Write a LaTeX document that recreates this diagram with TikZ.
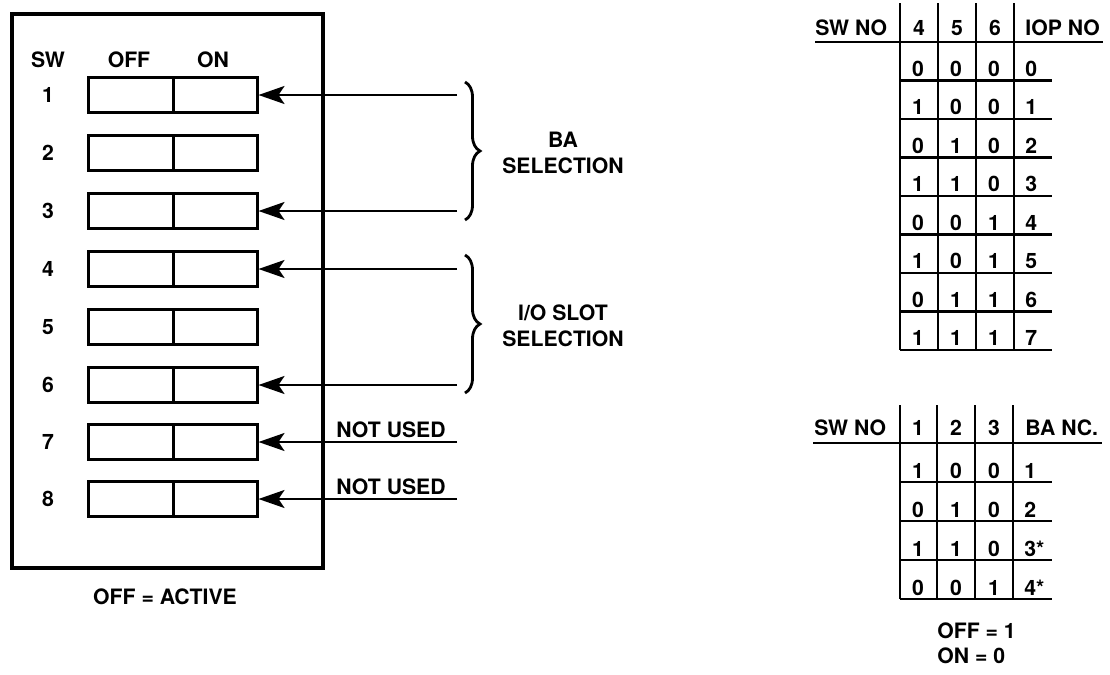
\documentclass[tikz,border=0pt]{standalone}
\usepackage{fontspec}
\setmainfont{TeX Gyre Heros}
\usepackage{tikz}
\usetikzlibrary{arrows.meta,decorations.pathreplacing}

\tikzset{
  lbl/.style={font=\fontsize{10.6}{12}\selectfont\bfseries, inner sep=0pt,
    text height=7.6pt, text depth=0pt},
  half/.style={draw, line width=1.5pt, minimum height=17.5pt, inner sep=0pt},
  feed/.style={line width=1.2pt, -{Stealth[length=13pt,width=9pt,inset=3pt]}},
  grp/.style={line width=1.4pt, decorate, decoration={brace, amplitude=7.5pt}},
  rule/.style={line width=1.2pt},
}

\begin{document}
\begin{tikzpicture}[x=0.5pt,y=-0.5pt]
      \useasboundingbox (0,0) rectangle (1110,675);

      % Switch housing
      \draw[line width=2pt] (12,14) rectangle (323,568);

      % Column heads
      \node[lbl] (hsw) at (48,60) {SW};
      \node[lbl] (hoff) at (129,60) {OFF};
      \node[lbl] (hon) at (213,60) {ON};

      % Switches
      \foreach \i/\y in {1/95,2/153,3/211,4/269,5/327,6/385,7/442,8/499}{
        \node[lbl] (n\i) at (48,\y) {\i};
        \node[half, minimum width=42.5pt] (off\i) at (130.5,\y) {};
        \node[half, minimum width=42pt] (on\i) at (215,\y) {};
      }

      % Feed lines
      \foreach \i/\y in {1/95,3/211,4/269,6/385,7/442,8/499}{
        \coordinate (f\i) at (457,\y);
        \draw[feed] (f\i) -- (on\i.east);
      }

      % Braces
      \draw[grp] (465,82) -- (465,220);
      \draw[grp] (465,255) -- (465,393);

      % Labels
      \node[lbl] (ba) at (563,140) {BA};
      \node[lbl] (bas) at (563,166) {SELECTION};
      \node[lbl] (io) at (563,313) {I/O SLOT};
      \node[lbl] (ios) at (563,339) {SELECTION};
      \node[lbl] (nu7) at (391,430) {NOT USED};
      \node[lbl] (nu8) at (391,487) {NOT USED};
      \node[lbl] (act) at (165,597) {OFF = ACTIVE};

      % IOP table
      \foreach \x in {900,938,976,1014} \draw[rule] (\x,3) -- (\x,350);
      \draw[rule] (815,42) -- (1103,42);
      \foreach \k in {1,...,8} \draw[rule] (900,{42+38.5*\k}) -- (1052,{42+38.5*\k});
      \node[lbl,anchor=west] (iopsw) at (815,28) {SW NO};
      \node[lbl] (iop4) at (919,28) {4};
      \node[lbl] (iop5) at (957,28) {5};
      \node[lbl] (iop6) at (995,28) {6};
      \node[lbl,anchor=west] (iopno) at (1025,28) {IOP NO};
      \foreach \a/\b/\c/\d [count=\k] in {0/0/0/0,1/0/0/1,0/1/0/2,1/1/0/3,
          0/0/1/4,1/0/1/5,0/1/1/6,1/1/1/7}{
        \node[lbl] (iopa\k) at (918,{30+38.5*\k}) {\a};
        \node[lbl] (iopb\k) at (956,{30+38.5*\k}) {\b};
        \node[lbl] (iopc\k) at (994,{30+38.5*\k}) {\c};
        \node[lbl,anchor=west] (iopd\k) at (1025,{30+38.5*\k}) {\d};
      }

      % BA table
      \foreach \x in {900,937,975,1013} \draw[rule] (\x,405) -- (\x,599);
      \draw[rule] (813,443) -- (1102,443);
      \foreach \k in {1,...,4} \draw[rule] (900,{443+39*\k}) -- (1052,{443+39*\k});
      \node[lbl,anchor=west] (basw) at (814,428) {SW NO};
      \node[lbl] (ba1) at (918,428) {1};
      \node[lbl] (ba2) at (956,428) {2};
      \node[lbl] (ba3) at (994,428) {3};
      \node[lbl,anchor=west] (bano) at (1025,428) {BA NC.};
      \foreach \a/\b/\c/\d [count=\k] in {1/0/0/1,0/1/0/2,1/1/0/3*,0/0/1/4*}{
        \node[lbl] (baa\k) at (918,{432+39*\k}) {\a};
        \node[lbl] (bab\k) at (956,{432+39*\k}) {\b};
        \node[lbl] (bac\k) at (994,{432+39*\k}) {\c};
        \node[lbl,anchor=west] (bad\k) at (1024,{432+39*\k}) {\d};
      }

      % Key
      \node[lbl,anchor=west] (koff) at (937,631) {OFF = 1};
      \node[lbl,anchor=west] (kon) at (937,656) {ON = 0};

  \end{tikzpicture}
\end{document}
